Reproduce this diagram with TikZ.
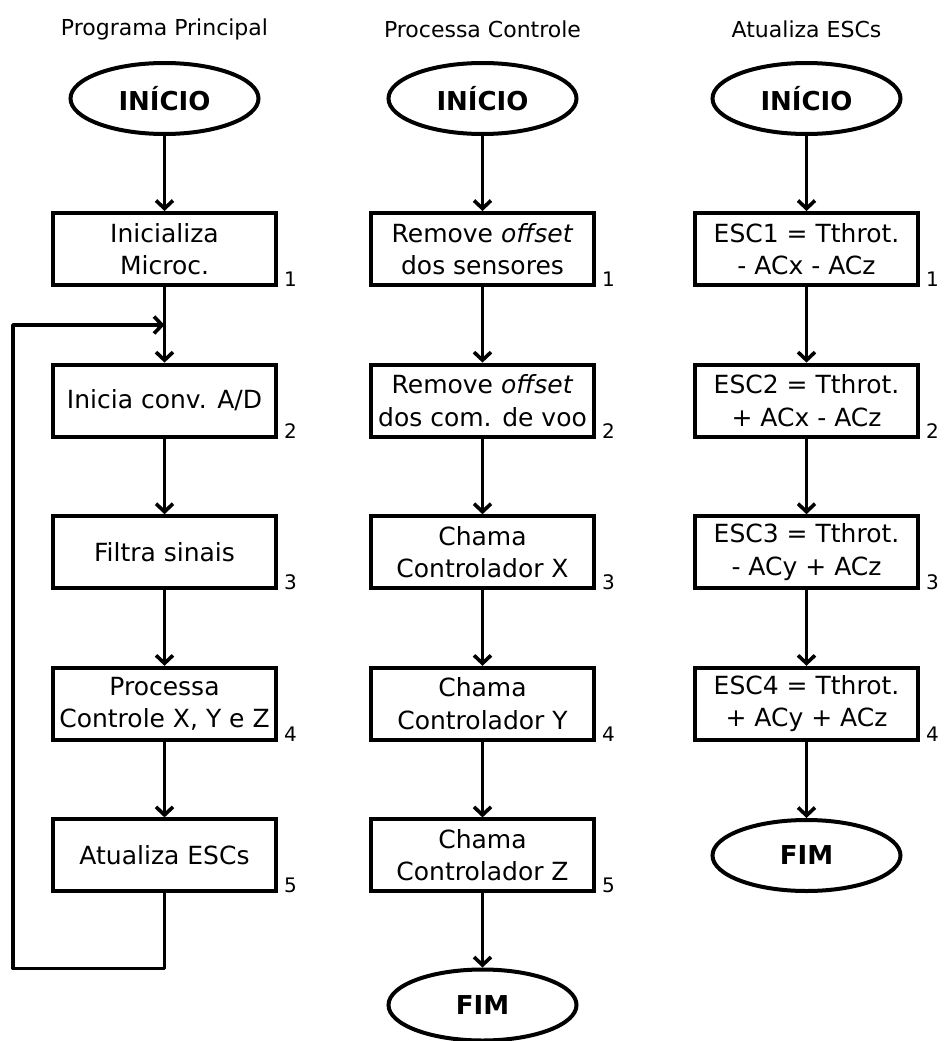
\documentclass[tikz,border=0pt]{standalone}
\usepackage{fontspec}
\setmainfont{DejaVu Sans}
\usepackage{tikz}
\usetikzlibrary{shapes, positioning, calc, arrows.meta}

\tikzset{
	caixa/.style={draw, line width=4pt, minimum width=223pt, minimum height=72pt, inner sep=0pt, align=center, font=\fontsize{25}{32.5}\selectfont},
	oval/.style={draw, ellipse, line width=4pt, minimum width=188pt, minimum height=71pt, inner sep=0pt, font=\fontsize{26}{30}\selectfont\bfseries},
	titulo/.style={font=\fontsize{22}{26}\selectfont},
	num/.style={inner sep=0pt, anchor=south west, font=\fontsize{20}{24}\selectfont},
	seta/.style={line width=3.6pt, -{Straight Barb[length=8pt, width=17pt, line width=3.6pt]}},
}

\begin{document}
\begin{tikzpicture}[x=1pt, y=-1pt]
			\useasboundingbox (0,0) rectangle (944,1041);
			
			% titulos
			\node [titulo] (t1) at (164.5, 29) {Programa Principal};
			\node [titulo] (t2) at (482.5, 29) {Processa Controle};
			\node [titulo] (t3) at (806.5, 29) {Atualiza ESCs};
			
			% inicio
			\node [oval] (ip) at (164.5, 98.5) {INÍCIO};
			\node [oval] (ic) at (482.5, 98.5) {INÍCIO};
			\node [oval] (ie) at (806.5, 98.5) {INÍCIO};
			
			% programa principal
			\foreach \i/\txt in {1/{Inicializa\\Microc.}, 2/{Inicia conv. A/D}, 3/{Filtra sinais}, 4/{Processa\\Controle X, Y e Z}, 5/{Atualiza ESCs}}
			{
				\node [caixa] (p\i) at (164.5, 97.4+151.6*\i) {\txt};
				\node [num, right=6pt of p\i.south east, anchor=south west] (np\i) {\i};
			}
			
			% processa controle
			\foreach \i/\txt in {1/{Remove \textit{offset}\\dos sensores}, 2/{Remove \textit{offset}\\dos com. de voo}, 3/{Chama\\Controlador X}, 4/{Chama\\Controlador Y}, 5/{Chama\\Controlador Z}}
			{
				\node [caixa] (c\i) at (482.5, 97.4+151.6*\i) {\txt};
				\node [num, right=6pt of c\i.south east, anchor=south west] (nc\i) {\i};
			}
			
			% atualiza ESCs
			\foreach \i/\txt in {1/{ESC1 = Tthrot.\\- ACx - ACz}, 2/{ESC2 = Tthrot.\\+ ACx - ACz}, 3/{ESC3 = Tthrot.\\- ACy + ACz}, 4/{ESC4 = Tthrot.\\+ ACy + ACz}}
			{
				\node [caixa] (e\i) at (806.5, 97.4+151.6*\i) {\txt};
				\node [num, right=6pt of e\i.south east, anchor=south west] (ne\i) {\i};
			}
			
			% fim
			\node [oval] (fc) at (482.5, 1005) {FIM};
			\node [oval] (fe) at (806.5, 855.5) {FIM};
			
			% setas
			\draw [seta] (ip) -- (p1);
			\draw [seta] (ic) -- (c1);
			\draw [seta] (ie) -- (e1);
			\foreach \a/\b in {1/2, 2/3, 3/4, 4/5}
			{
				\draw [seta] (p\a) -- (p\b);
				\draw [seta] (c\a) -- (c\b);
			}
			\foreach \a/\b in {1/2, 2/3, 3/4}
				\draw [seta] (e\a) -- (e\b);
			\draw [seta] (c5) -- (fc);
			\draw [seta] (e4) -- (fe);
			
			% laco
			\coordinate (volta) at (164.5, 325);
			\draw [seta, line join=round] (p5.south) -- ++(0, 75) -| (13, 325) -- (volta);
\end{tikzpicture}
\end{document}
